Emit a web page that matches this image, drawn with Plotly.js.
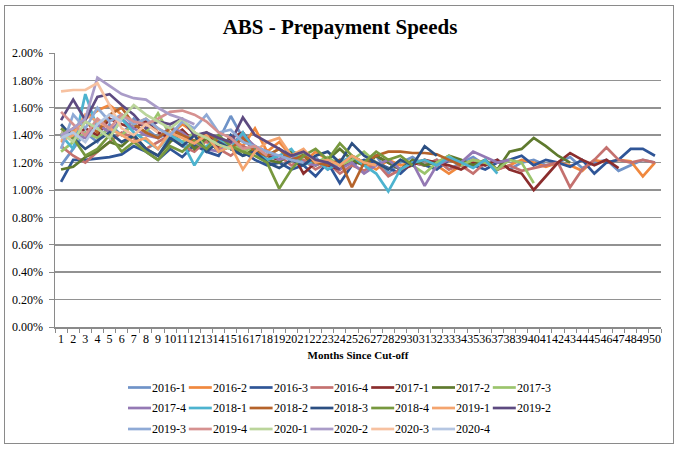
<!DOCTYPE html>
<html>
<head>
<meta charset="utf-8">
<script src="https://cdn.plot.ly/plotly-3.0.1.min.js"></script>
<style>
  html, body { margin: 0; padding: 0; background: #fff; }
  #wrap { position: relative; width: 680px; height: 450px; }
  #chart { position: absolute; left: 0; top: 0; width: 680px; height: 450px; }
  #frame { position: absolute; left: 4px; top: 5px; width: 668px; height: 437px; border: 1px solid #8a8a8a; pointer-events: none; }
</style>
</head>
<body>
<div id="wrap"><div id="chart"></div><div id="frame"></div></div>
<script>
// Months since cut-off (category labels)
const months = ["1","2","3","4","5","6","7","8","9","10","11","12","13","14","15","16","17","18","19","20",
  "21","22","23","24","25","26","27","28","29","30","31","32","33","34","35","36","37","38","39","40",
  "41","42","43","44","45","46","47","48","49","50"];

const seriesNames = ["2016-1","2016-2","2016-3","2016-4","2017-1","2017-2","2017-3","2017-4","2018-1","2018-2",
  "2018-3","2018-4","2019-1","2019-2","2019-3","2019-4","2020-1","2020-2","2020-3","2020-4"];

const seriesColors = ["#6f93c8","#f0883e","#2f5597","#c4716f","#8b2d2d","#5f7a2e","#9bc46c","#9479b4","#4db3cf","#b5632a",
  "#2c4f82","#77983e","#f4a46e","#5d4a80","#8faad6","#d69190","#bbd59b","#aa9cc8","#f7c1a0","#b5c6e2"];

// Prepayment speeds in percent
const s2016_1 = [1.18,1.30,1.42,1.35,1.48,1.40,1.52,1.45,1.38,1.42,1.35,1.30,1.40,1.36,1.54,1.38,1.30,1.25,1.22,1.28,1.20,1.24,1.15,1.20,1.22,1.18,1.25,1.12,1.20,1.24,1.18,1.22,1.15,1.20,1.24,1.18,1.22,1.15,1.20,1.22,1.18,1.20,1.24,1.16,1.20,1.22,1.14,1.18,1.22,1.20];
const s2016_2 = [1.35,1.42,1.52,1.58,1.62,1.55,1.48,1.52,1.45,1.40,1.48,1.42,1.35,1.30,1.38,1.32,1.45,1.28,1.35,1.25,1.20,1.28,1.22,1.18,1.25,1.20,1.15,1.22,1.18,1.20,1.22,1.18,1.12,1.18,1.22,1.20,1.15,1.18,1.22,1.20,1.17,1.20,1.18,1.14,1.22,1.20,1.22,1.21,1.10,1.20];
const s2016_3 = [1.06,1.22,1.22,1.23,1.24,1.26,1.32,1.28,1.22,1.30,1.24,1.33,1.28,1.25,1.40,1.28,1.22,1.18,1.20,1.15,1.18,1.10,1.20,1.05,1.18,1.22,1.20,1.16,1.12,1.20,1.18,1.15,1.22,1.20,1.18,1.15,1.20,1.22,1.25,1.18,1.22,1.20,1.17,1.22,1.12,1.20,1.22,1.30,1.30,1.25];
const s2016_4 = [1.32,1.25,1.20,1.28,1.35,1.42,1.38,1.30,1.35,1.40,1.32,1.28,1.36,1.30,1.25,1.32,1.28,1.22,1.25,1.18,1.22,1.15,1.20,1.12,1.18,1.14,1.20,1.10,1.15,1.20,1.18,1.22,1.15,1.18,1.12,1.20,1.15,1.18,1.14,1.16,1.18,1.20,1.02,1.15,1.22,1.31,1.22,1.20,1.22,1.20];
const s2017_1 = [1.42,1.38,1.45,1.40,1.52,1.48,1.45,1.50,1.42,1.38,1.44,1.35,1.40,1.32,1.38,1.42,1.30,1.25,1.22,1.28,1.12,1.20,1.18,1.15,1.22,1.18,1.25,1.20,1.15,1.18,1.22,1.20,1.18,1.15,1.20,1.18,1.22,1.15,1.12,1.00,1.10,1.20,1.27,1.22,1.18,1.22,1.16];
const s2017_2 = [1.15,1.17,1.24,1.28,1.35,1.32,1.40,1.30,1.25,1.35,1.42,1.30,1.38,1.28,1.32,1.25,1.30,1.22,1.20,1.28,1.25,1.18,1.22,1.30,1.22,1.18,1.25,1.20,1.15,1.22,1.18,1.20,1.25,1.22,1.18,1.22,1.15,1.28,1.30,1.38,1.32,1.25,1.20];
const s2017_3 = [1.28,1.35,1.42,1.38,1.45,1.40,1.48,1.42,1.56,1.40,1.35,1.42,1.30,1.38,1.35,1.28,1.32,1.25,1.30,1.22,1.28,1.20,1.24,1.18,1.22,1.28,1.20,1.15,1.22,1.18,1.12,1.20,1.25,1.18,1.22,1.20,1.15,1.22,1.20,1.05];
const s2017_4 = [1.45,1.40,1.38,1.48,1.42,1.52,1.45,1.40,1.38,1.46,1.42,1.35,1.30,1.28,1.34,1.40,1.32,1.28,1.22,1.25,1.20,1.18,1.22,1.15,1.20,1.12,1.18,1.22,1.15,1.20,1.03,1.18,1.22,1.20,1.28,1.24,1.20,1.22];
const s2018_1 = [1.40,1.30,1.70,1.45,1.38,1.52,1.42,1.36,1.30,1.40,1.35,1.18,1.32,1.38,1.30,1.42,1.28,1.22,1.25,1.30,1.18,1.22,1.15,1.20,1.25,1.18,1.12,0.99,1.15,1.20,1.22,1.18,1.24,1.20,1.16,1.22,1.12];
const s2018_2 = [1.38,1.45,1.50,1.42,1.55,1.60,1.48,1.42,1.38,1.45,1.40,1.36,1.42,1.35,1.30,1.38,1.28,1.25,1.30,1.22,1.25,1.20,1.18,1.22,1.02,1.20,1.25,1.28,1.28,1.27,1.27,1.26,1.22,1.18];
const s2018_3 = [1.48,1.38,1.30,1.36,1.42,1.35,1.40,1.30,1.25,1.38,1.32,1.40,1.28,1.35,1.30,1.25,1.28,1.20,1.16,1.22,1.18,1.25,1.28,1.20,1.34,1.25,1.20,1.15,1.22,1.18,1.32,1.25];
const s2018_4 = [1.45,1.38,1.25,1.30,1.40,1.28,1.35,1.28,1.22,1.32,1.28,1.36,1.30,1.40,1.32,1.28,1.25,1.20,1.01,1.15,1.25,1.30,1.22,1.34,1.25,1.20,1.28,1.22,1.25,1.18];
const s2019_1 = [1.36,1.40,1.55,1.50,1.45,1.40,1.35,1.38,1.30,1.42,1.38,1.34,1.40,1.28,1.32,1.15,1.28,1.35,1.38,1.25,1.30,1.20,1.22,1.18,1.25,1.20,1.18];
const s2019_2 = [1.51,1.66,1.51,1.68,1.70,1.62,1.55,1.45,1.50,1.48,1.52,1.40,1.42,1.38,1.35,1.53,1.40,1.35,1.30,1.25,1.28,1.22,1.20,1.15];
const s2019_3 = [1.30,1.55,1.45,1.60,1.50,1.55,1.48,1.52,1.45,1.40,1.50,1.45,1.55,1.42,1.44,1.35,1.32,1.28,1.25,1.22,1.20];
const s2019_4 = [1.57,1.48,1.40,1.52,1.45,1.55,1.50,1.48,1.52,1.57,1.58,1.55,1.50,1.42,1.38,1.30,1.32,1.25];
const s2020_1 = [1.42,1.35,1.50,1.45,1.38,1.52,1.62,1.55,1.50,1.45,1.52,1.42,1.38,1.33,1.30];
const s2020_2 = [1.40,1.45,1.52,1.82,1.76,1.70,1.67,1.66,1.60,1.55,1.52,1.48];
const s2020_3 = [1.72,1.73,1.73,1.78,1.62,1.45,1.40,1.48,1.42];
const s2020_4 = [1.38,1.42,1.35,1.48,1.55,1.50];

const seriesValues = [s2016_1,s2016_2,s2016_3,s2016_4,s2017_1,s2017_2,s2017_3,s2017_4,s2018_1,s2018_2,
  s2018_3,s2018_4,s2019_1,s2019_2,s2019_3,s2019_4,s2020_1,s2020_2,s2020_3,s2020_4];

const serif = "'Liberation Serif', 'Times New Roman', 'DejaVu Serif', serif";

const W = 680, H = 450;
const M = { l: 55, r: 19, t: 53, b: 123 };
const plotW = W - M.l - M.r, plotH = H - M.t - M.b;
const px2x = (px) => (px - M.l) / plotW;
const py2y = (py) => (H - M.b - py) / plotH;

const traces = seriesNames.map((name, i) => ({
  type: "scatter",
  mode: "lines",
  name: name,
  x: months.slice(0, seriesValues[i].length),
  y: seriesValues[i],
  line: { color: seriesColors[i], width: 2.7 },
  hoverinfo: "x+y+name"
}));

// Legend drawn as shapes + text, 7 entries per row (Excel style)
const legendShapes = [];
const legendText = [];
const perRow = 7, startX = 128, stepX = 60.8, rowY = [387.5, 408, 429], sampleLen = 23;
seriesNames.forEach((name, i) => {
  const r = Math.floor(i / perRow), c = i % perRow;
  const x0 = startX + c * stepX, y0 = rowY[r];
  legendShapes.push({
    type: "line", xref: "paper", yref: "paper",
    x0: px2x(x0), x1: px2x(x0 + sampleLen), y0: py2y(y0), y1: py2y(y0),
    line: { color: seriesColors[i], width: 2.7 }
  });
  legendText.push({
    xref: "paper", yref: "paper", x: px2x(x0 + sampleLen - 1), y: py2y(y0),
    xanchor: "left", yanchor: "middle", showarrow: false, text: name,
    font: { family: serif, size: 12, color: "#000" }
  });
});

const layout = {
  width: W, height: H,
  margin: M,
  paper_bgcolor: "#ffffff",
  plot_bgcolor: "#ffffff",
  font: { family: serif, size: 12, color: "#000" },
  title: {
    text: "ABS - Prepayment Speeds",
    font: { family: serif, size: 21, weight: "bold", color: "#000" },
    x: 0.5, xanchor: "center", xref: "container",
    y: 0.94, yanchor: "middle", yref: "container"
  },
  xaxis: {
    type: "category",
    categoryorder: "array",
    categoryarray: months,
    range: [-0.5, 49.5],
    tickmode: "linear", dtick: 1,
    tickson: "boundaries",
    ticks: "outside", ticklen: 4, tickcolor: "#8a8a8a",
    showline: true, linecolor: "#8a8a8a", linewidth: 1.5,
    showgrid: false,
    tickfont: { family: serif, size: 12, color: "#000" },
    tickangle: 0,
    automargin: false,
    title: { text: "Months Since Cut-off", font: { family: serif, size: 11, weight: "bold", color: "#000" }, standoff: 6 }
  },
  yaxis: {
    range: [0, 2.0],
    dtick: 0.2, tick0: 0,
    tickformat: ".2f", ticksuffix: "%",
    ticks: "outside", ticklen: 5, tickcolor: "#8a8a8a",
    ticklabelstandoff: 3,
    showline: true, linecolor: "#8a8a8a", linewidth: 1.5,
    showgrid: true, gridcolor: "#929292", gridwidth: 1.5,
    zeroline: false,
    automargin: false,
    tickfont: { family: serif, size: 12, color: "#000" }
  },
  showlegend: false,
  shapes: legendShapes,
  annotations: legendText
};

Plotly.newPlot("chart", traces, layout, { displayModeBar: false, staticPlot: true });
</script>
</body>
</html>
